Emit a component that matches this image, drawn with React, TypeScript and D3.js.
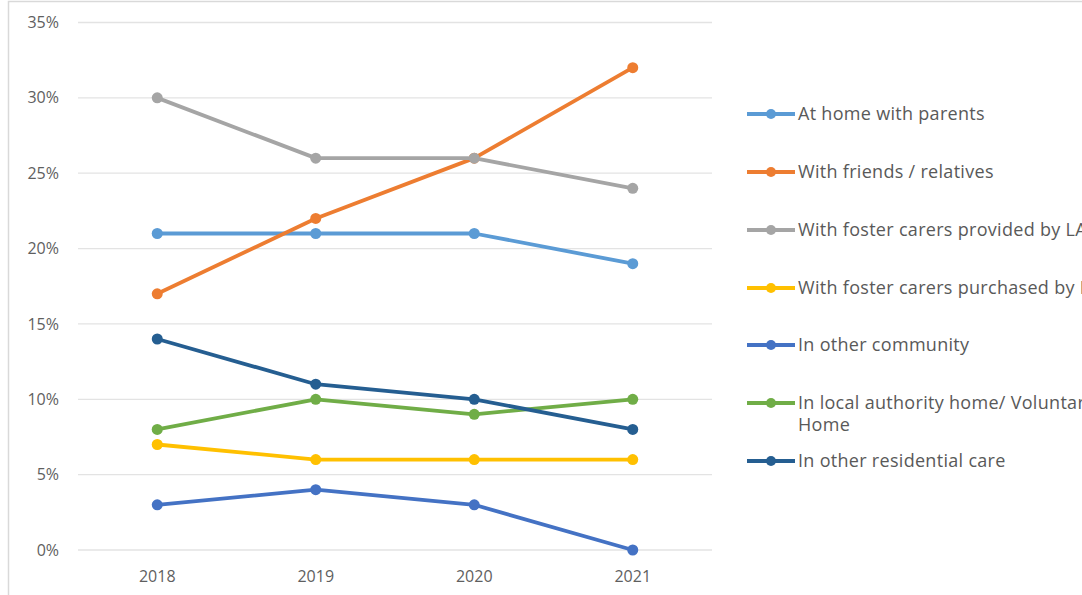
import React, { useEffect, useRef } from "react";
import * as d3 from "d3";

const years = ["2018", "2019", "2020", "2021"];
const yTicks = [0, 5, 10, 15, 20, 25, 30, 35];

const legendLines = [
  ["At home with parents"],
  ["With friends / relatives"],
  ["With foster carers provided by LA"],
  ["With foster carers purchased by LA"],
  ["In other community"],
  ["In local authority home/ Voluntary", "Home"],
  ["In other residential care"],
];
const atHome = [21, 21, 21, 19];
const friends = [17, 22, 26, 32];
const fosterLA = [30, 26, 26, 24];
const fosterPurchased = [7, 6, 6, 6];
const otherCommunity = [3, 4, 3, 0];
const localAuthority = [8, 10, 9, 10];
const otherResidential = [14, 11, 10, 8];
const allValues = [atHome, friends, fosterLA, fosterPurchased, otherCommunity, localAuthority, otherResidential];
const colors = ["#5B9BD5", "#ED7D31", "#A5A5A5", "#FFC000", "#4472C4", "#70AD47", "#255E91"];

export default function App() {
  const ref = useRef<SVGSVGElement>(null);
  useEffect(() => {
    const svg = d3.select(ref.current);
    svg.selectAll("*").remove();
    const W = 1082, H = 595;
    svg.append("rect").attr("width", W).attr("height", H).attr("fill", "#fff");
    svg.append("rect").attr("x", 8.5).attr("y", 1.5).attr("width", W).attr("height", H)
      .attr("fill", "none").attr("stroke", "#d9d9d9").attr("stroke-width", 1.5);

    const x = d3.scaleBand().domain(years).range([78, 712]);
    const y = d3.scaleLinear().domain([0, 35]).range([550, 22.5]);
    const font = "'Open Sans', 'Noto Sans', sans-serif";

    const g = svg.append("g");
    g.selectAll(".grid").data(yTicks).join("line")
      .attr("x1", 78).attr("x2", 712)
      .attr("y1", d => y(d)).attr("y2", d => y(d))
      .attr("stroke", "#e3e3e3").attr("stroke-width", 1.3);
    g.selectAll(".yl").data(yTicks).join("text")
      .attr("x", 59).attr("y", d => y(d)).attr("dy", "0.35em")
      .attr("text-anchor", "end").attr("font-family", font).attr("font-size", 16)
      .attr("fill", "#5f5f5f").text(d => d + "%");
    g.selectAll(".xl").data(years).join("text")
      .attr("x", d => x(d)! + x.bandwidth() / 2).attr("y", 576).attr("dy", "0.35em")
      .attr("text-anchor", "middle").attr("font-family", font).attr("font-size", 16)
      .attr("fill", "#5f5f5f").text(d => d);

    const line = d3.line<number>()
      .x((_, i) => x(years[i])! + x.bandwidth() / 2)
      .y(d => y(d));
    allValues.forEach((vals, si) => {
      g.append("path").attr("d", line(vals)!).attr("fill", "none")
        .attr("stroke", colors[si]).attr("stroke-width", 3.8).attr("stroke-linejoin", "round");
      g.selectAll(null).data(vals).join("circle")
        .attr("cx", (_, i) => x(years[i])! + x.bandwidth() / 2)
        .attr("cy", d => y(d)).attr("r", 5.5).attr("fill", colors[si]);
    });

    const legendY = [114, 172, 230, 288, 345, 403, 461];
    const lg = svg.append("g");
    legendLines.forEach((lines, i) => {
      const ly = legendY[i];
      lg.append("line").attr("x1", 747).attr("x2", 795).attr("y1", ly).attr("y2", ly)
        .attr("stroke", colors[i]).attr("stroke-width", 3.8);
      lg.append("circle").attr("cx", 771).attr("cy", ly).attr("r", 5).attr("fill", colors[i]);
      lines.forEach((t, j) => {
        lg.append("text").attr("x", 798).attr("y", ly + j * 22).attr("dy", "0.35em")
          .attr("font-family", font).attr("font-size", 18).attr("letter-spacing", 0.3)
          .attr("fill", "#595959").text(t);
      });
    });
  }, []);
  return (
    <svg ref={ref} width={1082} height={595}
      style={{ position: "absolute", left: 0, top: 0, display: "block" }} />
  );
}
